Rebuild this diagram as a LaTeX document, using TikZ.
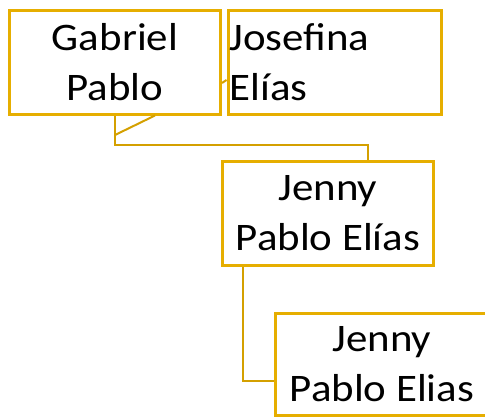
\documentclass[tikz,border=0pt]{standalone}
\usepackage{fontspec}
\setmainfont{Carlito}[FakeStretch=1.1]
\usepackage{tikz}
\definecolor{gold}{RGB}{230,174,0}

\begin{document}
\begin{tikzpicture}[x=1pt,y=-1pt,line join=miter,
  person/.style={draw=gold,line width=3pt,minimum width=211pt,minimum height=104pt,
    inner sep=2pt,font=\fontsize{39}{50}\selectfont},
  link/.style={draw=gold!92!black,line width=2pt}]
\useasboundingbox (0,0) rectangle (485,418);
\node[person,align=center] (G) at (115,62) {Gabriel\\Pablo};
\node[person,align=left,minimum width=213pt,inner sep=1pt,text width=210pt] (J) at (334.5,62) {Josefina\\Elías};
\node[person,align=center] (JE) at (328,213) {Jenny\\Pablo Elías};
\node[person,align=center,minimum width=214pt,minimum height=102pt] (JJ) at (382,364) {Jenny\\Pablo Elias};
\coordinate (C) at (115,135);
\draw[link] ([yshift=-21pt]G.east) -- ([yshift=-18pt]J.west);
\draw[link] ([xshift=40pt]G.south) -- (C);
\draw[link] (G.south) -- ++(0,29) -| ([xshift=40pt]JE.north);
\draw[link] ([xshift=22pt]JE.south west) |- ([yshift=-17pt]JJ.west);
\end{tikzpicture}
\end{document}
